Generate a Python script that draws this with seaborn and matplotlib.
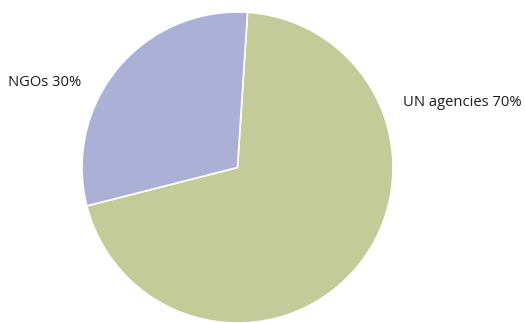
import matplotlib
matplotlib.use("Agg")
import matplotlib.pyplot as plt
import seaborn as sns

# data
labels = ["UN agencies", "NGOs"]
shares = [70, 30]
colors = ["#c3cc98", "#acb0d6"]

sns.set_theme(style="white")
plt.rcParams['font.family'] = ['Open Sans', 'DejaVu Sans']

W, H = 525, 323
fig = plt.figure(figsize=(W / 100, H / 100), dpi=100)

# pie circle spans x 82..393, y 12..323 (pixels)
ax = fig.add_axes([82 / W, 0 / H, 311 / W, 311 / H])
ax.pie(shares, colors=colors, startangle=86.3, counterclock=False,
       wedgeprops=dict(edgecolor="white", linewidth=1.2))
ax.set_xlim(-1, 1)
ax.set_ylim(-1, 1)
ax.set_aspect("equal")
ax.axis("off")

# labels placed outside the pie
fig.text(8 / W, 1 - 82 / H, f"{labels[1]} {shares[1]}%", fontsize=10.6,
         ha="left", va="center", color="#1a1a1a")
fig.text(403 / W, 1 - 103 / H, f"{labels[0]} {shares[0]}%", fontsize=10.6,
         ha="left", va="center", color="#1a1a1a")

fig.savefig("out.png", dpi=100, facecolor="white")
